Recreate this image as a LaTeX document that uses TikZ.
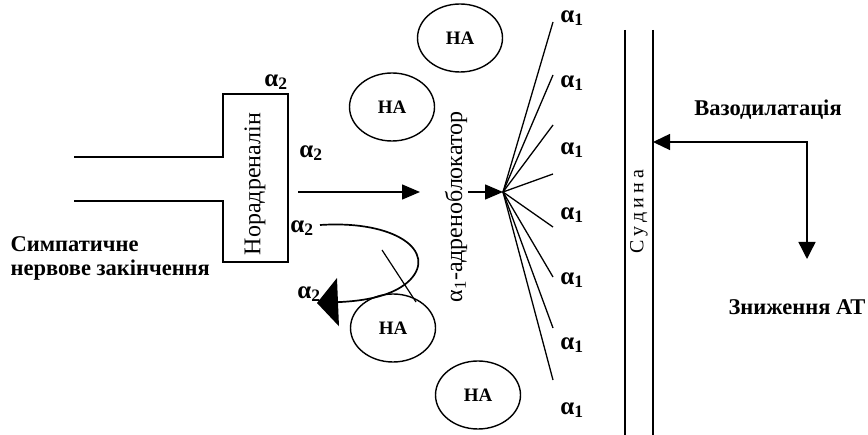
\documentclass[tikz,border=0pt]{standalone}
\usepackage{fontspec}
\setmainfont{Liberation Serif}
\usetikzlibrary{arrows.meta,shapes.geometric}
\newcommand\alsub[1]{α\textsubscript{#1}}
\tikzset{
  lbl/.style={font=\bfseries\fontsize{22.5}{24}\selectfont, inner sep=0pt},
  alab/.style={font=\bfseries\fontsize{25}{26}\selectfont, inner sep=0pt},
  nael/.style={draw, ellipse, line width=1.4pt, minimum width=85pt, minimum height=68pt, inner sep=0pt, font=\bfseries\fontsize{19}{20}\selectfont},
  vert/.style={rotate=90, font=\fontsize{24}{25}\selectfont, inner sep=0pt},
  arr/.style={-{Triangle[length=18pt,width=15pt]}},
  fanline/.style={line width=1.3pt},
}
\begin{document}
\begin{tikzpicture}[x=1pt,y=-1pt,line width=1.4pt]
\useasboundingbox (0,0) rectangle (868,435);
% nerve ending outline
\draw (74,157) -- (223,157) -- (223,94) -- (288,94) -- (288,262) -- (223,262) -- (223,201) -- (74,201);
\node[vert] (nor) at (255,184) {Норадреналін};
\node[lbl,anchor=west] (symp1) at (10,244) {Симпатичне};
\node[lbl,anchor=west] (symp2) at (10,270) {нервове закінчення};
% alpha2 labels
\node[alab] (a2top) at (276,82) {\alsub{2}};
\node[alab] (a2mid) at (311,153) {\alsub{2}};
\node[alab] (a2low) at (302,228) {\alsub{2}};
\node[alab] (a2back) at (309,294) {\alsub{2}};
% NA ellipses
\node[nael] (na1) at (460,38) {НА};
\node[nael] (na2) at (392,107) {НА};
\node[nael] (na3) at (393,328) {НА};
\node[nael] (na4) at (478,395) {НА};
% arrows
\coordinate (ar1s) at (298,192);
\coordinate (ar1e) at (420,192);
\draw[arr] (ar1s) -- (ar1e);
\node[vert] (blk) at (456,207) {α\textsubscript{1}-адреноблокатор};
\coordinate (ar2s) at (468,192);
\coordinate (fan) at (503,192);
\draw[arr] (ar2s) -- (fan);
% fan
\foreach \y [count=\i] in {22,75,125,174,227,277,328,380}{
  \coordinate (e\i) at (553,\y);
  \draw[fanline] (fan) -- (e\i);
}
\foreach \y [count=\i] in {18,83,150,215,280,345,410}{
  \node[alab] (a1n\i) at (572,\y) {\alsub{1}};
}
% recurrent curve
\coordinate (cs) at (320,225);
\coordinate (ce) at (317,303);
\draw[line width=1.7pt,-{Triangle[length=21pt,width=48pt]}] (cs) .. controls (397,220) and (437,252) .. (410,280) .. controls (394,296) and (365,301) .. (ce);
\coordinate (x1) at (382,250);
\coordinate (x2) at (416,302);
\draw[line width=1.2pt] (x1) -- (x2);
% vessel
\coordinate (v1t) at (625,30);
\coordinate (v1b) at (625,435);
\coordinate (v2t) at (653,30);
\coordinate (v2b) at (653,435);
\draw (v1t) -- (v1b);
\draw (v2t) -- (v2b);
\node[vert,font=\fontsize{20}{22}\selectfont] (sud) at (639,212) {С\hspace{4pt}у\hspace{4pt}д\hspace{4pt}и\hspace{4pt}н\hspace{4pt}а};
% vasodilation
\node[lbl] (vaso) at (768,110) {Вазодилатація};
\coordinate (corner) at (807,142);
\coordinate (vtip) at (653,142);
\node[lbl] (bp) at (797,307) {Зниження АТ};
\coordinate (dtip) at (807,259);
\draw[{Triangle[length=17pt,width=16pt]}-{Triangle[length=17pt,width=17pt]}] (vtip) -- (corner) -- (dtip);
\end{tikzpicture}
\end{document}
